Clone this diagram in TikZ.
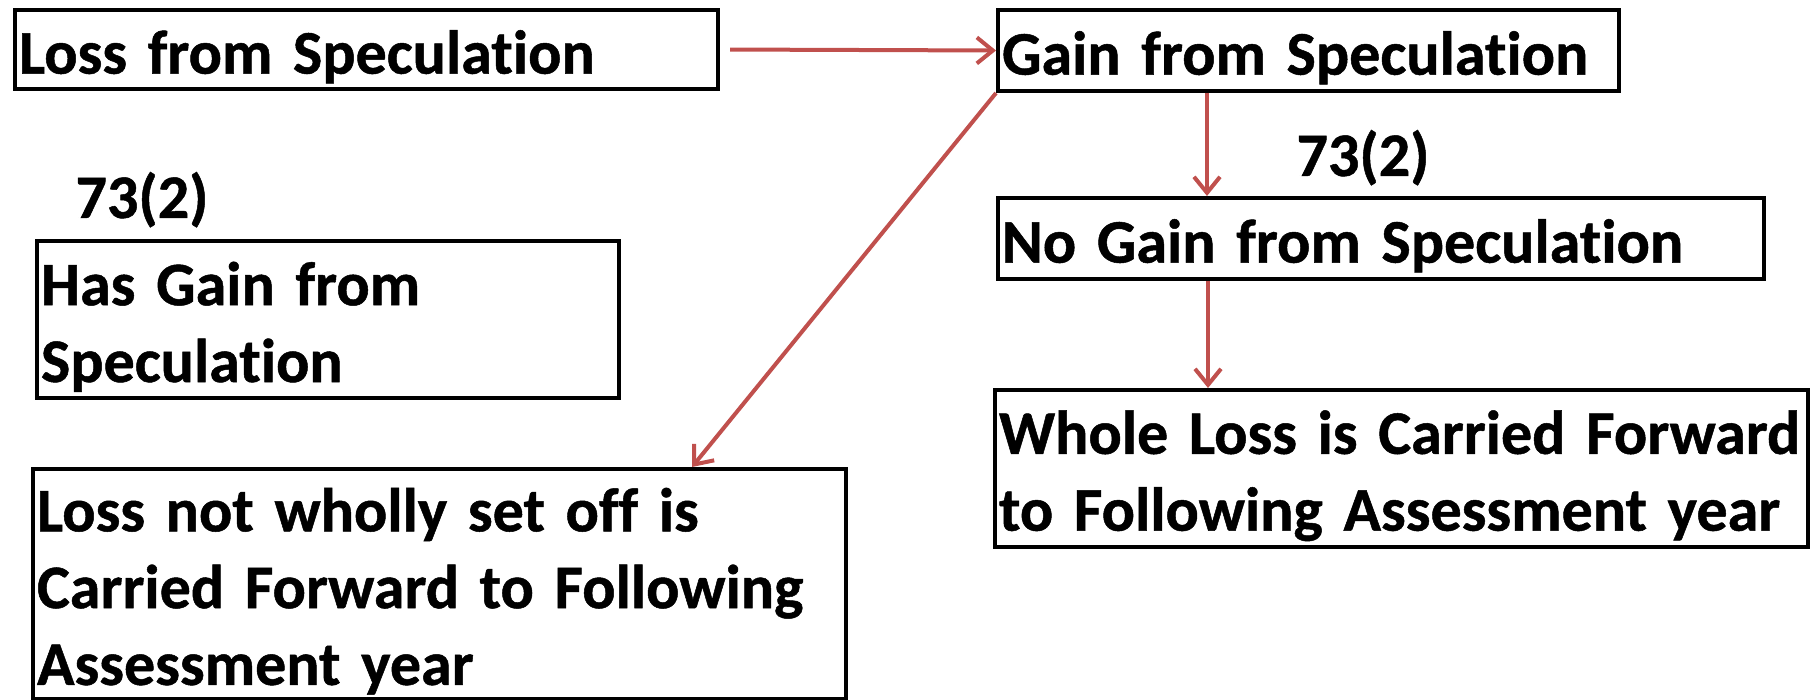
\documentclass[tikz,border=0pt]{standalone}
\usepackage{fontspec}
\setmainfont{Carlito}[Ligatures=NoCommon,WordSpace=0.6,BoldFeatures={FakeBold=0.8}]
\usetikzlibrary{arrows.meta,calc}
\definecolor{arrowred}{RGB}{192,80,77}
\begin{document}
\begin{tikzpicture}[x=0.5pt,y=-0.5pt,
  box/.style={draw=black,line width=2pt,anchor=north west,inner xsep=2pt,inner ysep=0pt,
    align=left,font=\fontsize{31}{38.4}\selectfont\bfseries,
    execute at begin node={\rule{0pt}{29pt}}},
  lbl/.style={anchor=base,inner sep=0pt,font=\fontsize{31}{38}\selectfont\bfseries},
  conn/.style={draw=arrowred,line width=2pt,-{Straight Barb[length=8pt,width=13pt,line width=2pt]}}]
\useasboundingbox (0,0) rectangle (1814,700);
\node[box,minimum width=351.5pt,minimum height=39.5pt,text width=347.5pt] (b1) at (13,8) {Loss from Speculation};
\node[box,minimum width=310.5pt,minimum height=40.5pt,text width=306.5pt] (b2) at (996,8) {Gain from Speculation};
\node[box,minimum width=291pt,minimum height=78.5pt,text width=287pt] (b3) at (35,239) {Has Gain from\\Speculation};
\node[box,minimum width=406.5pt,minimum height=115pt,text width=402.5pt] (b4) at (31,467) {\mbox{Loss not wholly set off is}\\\mbox{Carried Forward to Following}\\\mbox{Assessment year}};
\node[box,minimum width=383pt,minimum height=40.5pt,text width=379pt] (b5) at (996,196) {No Gain from Speculation};
\node[box,minimum width=406.5pt,minimum height=78.5pt,text width=402.5pt] (b6) at (993,388) {\mbox{Whole Loss is Carried Forward}\\\mbox{to Following Assessment year}};
\node[lbl] (l1) at (142,218) {73(2)};
\node[lbl] (l2) at (1363,176) {73(2)};
\coordinate (p2) at ([xshift=105.5pt]b2.south west);
\coordinate (p5) at ([xshift=106pt]b5.south west);
\coordinate (p4) at ([xshift=330.5pt]b4.north west);
\draw[conn,shorten <=5pt] (b1.east) -- (b2.west);
\draw[conn] (b2.south west) -- (p4);
\draw[conn] (p2) -- (p2 |- b5.north);
\draw[conn] (p5) -- (p5 |- b6.north);
\end{tikzpicture}
\end{document}
